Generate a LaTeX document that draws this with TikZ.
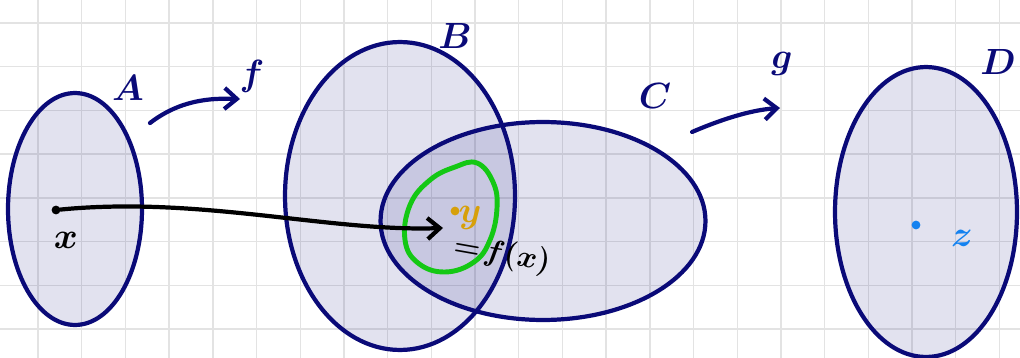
\documentclass[tikz,border=0pt]{standalone}
\usepackage{tikz}
\usepackage{amsmath, amssymb}
\usetikzlibrary{arrows.meta, positioning, shapes.geometric}
\definecolor{inkblue}{RGB}{10,10,120}
\definecolor{setfill}{RGB}{30,30,130}
\definecolor{blobgreen}{RGB}{20,200,20}
\definecolor{ptorange}{RGB}{215,160,10}
\definecolor{ptblue}{RGB}{20,130,240}

\begin{document}
\begin{tikzpicture}[>={Straight Barb[length=7pt, width=12pt]}, x=0.02cm, y=-0.02cm,
    gridline/.style={gray!22, line width=0.8pt},
    setbox/.style={ellipse, draw=inkblue, line width=2.4pt, fill=setfill, fill opacity=0.13, inner sep=0pt},
    setname/.style={inkblue, font=\huge},
    map/.style={->, inkblue, line width=2.4pt, line cap=round},
    dot/.style={circle, fill, inner sep=0pt, minimum size=5pt}]
  \useasboundingbox (0,0) rectangle (1020,358);
  % squared paper
  \foreach \i in {0,...,22} {
    \draw[gridline] ({38+43.7*\i},0) -- ({38+43.7*\i},358);
  }
  \foreach \j in {0,...,7} {
    \draw[gridline] (0,{23+43.7*\j}) -- (1020,{23+43.7*\j});
  }
  % the sets
  \node[setbox, minimum width=2.68cm, minimum height=4.64cm] (A) at (75,209) {};
  \node[setbox, minimum width=4.6cm, minimum height=6.16cm] (B) at (400,196) {};
  \node[setbox, minimum width=6.5cm, minimum height=3.96cm] (C) at (543,221) {};
  \node[setbox, minimum width=3.64cm, minimum height=5.8cm] (D) at (926,212) {};
  \node[setname] (Alab) at (128,88) {$\boldsymbol{A}$};
  \node[setname] (Blab) at (455,36) {$\boldsymbol{B}$};
  \node[setname] (Clab) at (655,96) {$\boldsymbol{C}$};
  \node[setname] (Dlab) at (998,62) {$\boldsymbol{D}$};
  % image of x
  \draw[blobgreen, line width=2.8pt] plot[smooth cycle, tension=0.7] coordinates
    {(477,163) (493,182) (497,208) (490,240) (474,262) (445,272) (418,263) (405,240) (410,205) (430,180) (455,167)};
  % the maps
  \coordinate (fs) at (150,123);
  \coordinate (fe) at (240,99);
  \draw[map] (fs) .. controls (180,100) and (210,98) .. (fe);
  \node[setname] (flab) at (252,76) {$\boldsymbol{f}$};
  \coordinate (gs) at (692,132);
  \coordinate (ge) at (780,108);
  \draw[map] (gs) .. controls (720,120) and (750,110) .. (ge);
  \node[setname] (glab) at (782,64) {$\boldsymbol{g}$};
  % points
  \node[dot, black] (xpt) at (56,210) {};
  \node[font=\huge] (xlab) at (66,240) {$\boldsymbol{x}$};
  \node[dot, ptorange] (ypt) at (455,211) {};
  \node[ptorange, font=\huge] (ylab) at (470,218) {$\boldsymbol{y}$};
  \coordinate (yend) at (443,228);
  \draw[->, line width=2.4pt, line cap=round] (xpt) .. controls (200,196) and (330,232) .. (yend);
  \node[font=\LARGE, rotate=-10] (fxlab) at (502,255) {$\boldsymbol{=\!f(x)}$};
  \node[dot, ptblue] (zpt) at (916,225) {};
  \node[ptblue, font=\huge] (zlab) at (962,238) {$\boldsymbol{z}$};
\end{tikzpicture}
\end{document}
